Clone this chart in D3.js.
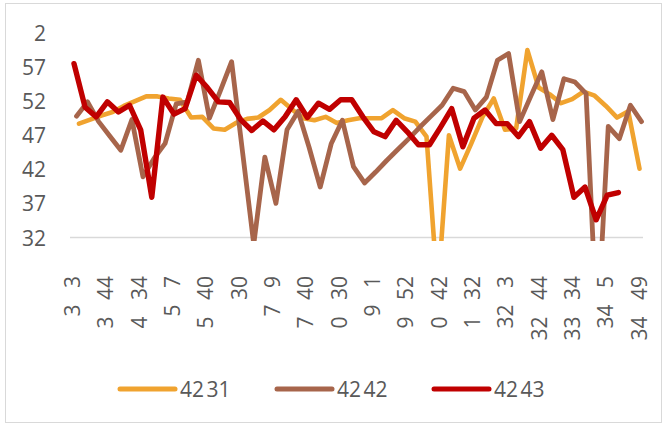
<!DOCTYPE html>
<html><head><meta charset="utf-8">
<script src="https://cdn.jsdelivr.net/npm/d3@7"></script>
<style>
body{margin:0;background:#fff}
svg{display:block}
text{font-family:"Open Sans",sans-serif;fill:#595959}
</style>
</head><body>
<svg id="chart" width="668" height="428"></svg>
<script>
// ---- data ----
const seriesNames = ["42 31", "42 42", "42 43"];
const seriesColors = ["#F0A32F", "#A7654B", "#C00000"];

const values4231 = [48.7, 49.3, 49.9, 50.4, 51.3, 52.0, 52.7, 52.7, 52.4, 52.2,
  49.6, 49.7, 48.0, 47.8, 48.8, 49.4, 49.6, 50.7, 52.2, 50.8,
  49.5, 49.2, 49.7, 48.8, 49.2, 49.5, 49.5, 49.5, 50.7, 49.5,
  49.0, 46.8, 24.0, 47.0, 42.1, 45.8, 49.7, 52.4, 47.8, 48.0,
  59.5, 54.0, 53.0, 51.7, 52.3, 53.4, 52.8, 51.3, 49.6, 50.5, 42.1];

const values4242 = [49.8, 51.9, 49.0, 46.9, 44.8, 49.3, 40.9, 43.6, 45.8, 51.6,
  51.9, 58.0, 49.5, 53.6, 57.8, 44.4, 31.0, 43.8, 37.0, 47.8,
  50.5, 45.2, 39.4, 45.8, 49.2, 42.4, 40.0, 41.6, 43.3, 44.9,
  46.5, 48.2, 49.8, 51.4, 53.9, 53.4, 50.7, 52.6, 58.0, 59.0,
  49.0, 52.7, 56.3, 49.3, 55.3, 54.8, 53.1, 18.0, 48.3, 46.5, 51.4, 49.0];

const values4243 = [57.5, 51.1, 49.7, 51.9, 50.4, 51.4, 47.8, 37.9, 52.6, 50.1,
  50.9, 55.8, 54.0, 51.9, 51.8, 49.3, 47.7, 49.1, 47.8, 49.7,
  52.2, 49.6, 51.7, 50.8, 52.2, 52.2, 49.7, 47.5, 46.8, 49.2,
  47.5, 45.6, 45.6, 48.2, 50.9, 45.3, 49.5, 50.7, 48.7, 48.7,
  46.8, 49.0, 45.1, 47.0, 44.9, 37.9, 39.4, 34.6, 38.2, 38.6];

const categories = d3.range(52);
const xTickEvery = 3;
const xTickTop = ["3", "44", "34", "7", "40", "30", "9", "40", "30", "1", "52", "42", "32", "3", "44", "34", "5", "49"];
const xTickBottom = ["3", "3", "4", "5", "5", "", "7", "7", "0", "9", "9", "0", "1", "32", "32", "33", "34", "34"];

const yTickValues = [32, 37, 42, 47, 52, 57, 62];
const yTickLabels = ["32", "37", "42", "47", "52", "57", "2"];

// ---- drawing ----
const svg = d3.select("#chart");
const W = 668, H = 428;

svg.append("rect").attr("x", 5.5).attr("y", 3.5).attr("width", 656).attr("height", 419)
  .attr("fill", "#fff").attr("stroke", "#d9d9d9").attr("stroke-width", 1);

const y = d3.scaleLinear().domain([32, 62]).range([237.5, 33]);
const x = d3.scaleLinear().domain([0, categories.length - 1]).range([74, 640.6]);

// per-series horizontal placement (series are drawn slightly shifted in the reference)
const xOrange = d3.scaleLinear().domain([0, values4231.length - 1]).range([79, 639.5]);
const xBrown = d3.scaleLinear().domain([0, values4242.length - 1]).range([76.5, 641.5]);
const xRed = x;

// y labels
svg.append("g").selectAll("text").data(yTickValues).join("text")
  .attr("x", 46).attr("y", d => y(d))
  .attr("text-anchor", "end").attr("dominant-baseline", "central")
  .attr("font-size", 21)
  .text((d, i) => yTickLabels[i]);

// x axis line
svg.append("line").attr("x1", 70).attr("x2", 643).attr("y1", y(32)).attr("y2", y(32))
  .attr("stroke", "#d9d9d9").attr("stroke-width", 1.5);

// x labels
const tickIdx = categories.filter(c => c % xTickEvery === 0);
svg.append("g").selectAll("text").data(tickIdx).join("text")
  .attr("transform", d => `translate(${x(d) - 2},276) rotate(-90)`)
  .attr("text-anchor", "end").attr("dominant-baseline", "central")
  .attr("font-size", 21)
  .attr("xml:space", "preserve").style("white-space", "pre")
  .text((d, i) => xTickBottom[i] ? xTickBottom[i] + "   " + xTickTop[i] : xTickTop[i]);

// clip
svg.append("defs").append("clipPath").attr("id", "plotclip")
  .append("rect").attr("x", 60).attr("y", 10).attr("width", 600).attr("height", 231);

const plot = svg.append("g").attr("clip-path", "url(#plotclip)");
const series = [
  {name: seriesNames[0], values: values4231, xs: xOrange, color: seriesColors[0], w: 4.6},
  {name: seriesNames[1], values: values4242, xs: xBrown, color: seriesColors[1], w: 4.8},
  {name: seriesNames[2], values: values4243, xs: xRed, color: seriesColors[2], w: 5.4}
];
series.forEach(s => {
  const line = d3.line().defined(d => d != null).x((d, i) => s.xs(i)).y(d => y(d));
  plot.append("path").datum(s.values).attr("d", line)
    .attr("fill", "none").attr("stroke", s.color).attr("stroke-width", s.w)
    .attr("stroke-linejoin", "round").attr("stroke-linecap", "round");
});

// legend
const legendX = [120, 277, 434];
const lg = svg.append("g").selectAll("g").data(series).join("g")
  .attr("transform", (d, i) => `translate(${legendX[i]},389)`);
lg.append("line").attr("x1", 0).attr("x2", 55).attr("y1", 0).attr("y2", 0)
  .attr("stroke", d => d.color).attr("stroke-width", 5).attr("stroke-linecap", "round");
lg.append("text").attr("x", 60).attr("y", 0).attr("dominant-baseline", "central")
  .attr("font-size", 21).attr("word-spacing", "-3px").text(d => d.name);
</script>
</body></html>
